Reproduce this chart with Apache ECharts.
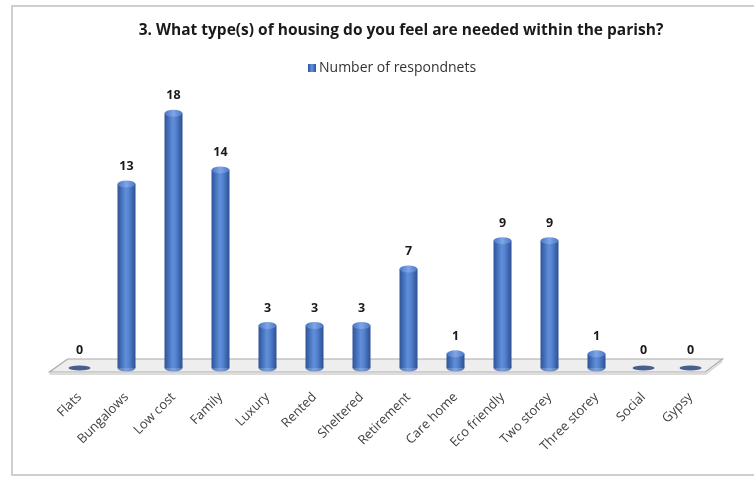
<!DOCTYPE html>
<html>
<head>
<meta charset="utf-8">
<script src="https://cdn.jsdelivr.net/npm/echarts@6/dist/echarts.min.js"></script>
<style>
  html, body { margin: 0; padding: 0; background: #ffffff; }
  #chart { width: 754px; height: 478px; }
</style>
</head>
<body>
<div id="chart"></div>
<script>
// Survey answers: housing types wanted in the parish
const categories = ['Flats', 'Bungalows', 'Low cost', 'Family', 'Luxury', 'Rented', 'Sheltered',
  'Retirement', 'Care home', 'Eco friendly', 'Two storey', 'Three storey', 'Social', 'Gypsy'];
const respondents = [0, 13, 18, 14, 3, 3, 3, 7, 1, 9, 9, 1, 0, 0];
const seriesName = 'Number of respondnets';
const chartTitle = '3. What type(s) of housing do you feel are needed within the parish?';

const FONT = '"Open Sans", Lato, sans-serif';

// cylinder body shading: darker rims, lighter middle
const bodyColor = new echarts.graphic.LinearGradient(0, 0, 1, 0, [
  { offset: 0, color: '#2d539a' },
  { offset: 0.45, color: '#5f8ed9' },
  { offset: 0.6, color: '#5886d3' },
  { offset: 1, color: '#2c5094' }
]);
const capColor = new echarts.graphic.LinearGradient(0, 0, 1, 0, [
  { offset: 0, color: '#4a77c4' },
  { offset: 0.5, color: '#7ea5e6' },
  { offset: 1, color: '#4a77c4' }
]);

const chart = echarts.init(document.getElementById('chart'));

chart.setOption({
  backgroundColor: '#ffffff',
  animation: false,
  title: {
    text: chartTitle,
    left: 396,
    textAlign: 'center',
    top: 18,
    textStyle: { fontFamily: FONT, fontSize: 15.5, fontWeight: 'bold', color: '#1a1a1a' }
  },
  legend: {
    data: [{ name: seriesName, icon: 'rect' }],
    left: 303,
    top: 56,
    itemWidth: 8,
    itemHeight: 8,
    itemGap: 4,
    textStyle: { fontFamily: FONT, fontSize: 14, color: '#333333', padding: [0, 0, 0, -2] }
  },
  grid: { left: 56, right: 40, top: 85, bottom: 110, containLabel: false },
  xAxis: {
    type: 'category',
    data: categories,
    axisLine: { show: false },
    axisTick: { show: false },
    axisLabel: {
      interval: 0,
      rotate: 45,
      margin: 27,
      fontFamily: FONT,
      fontSize: 13,
      color: '#404040'
    }
  },
  yAxis: {
    type: 'value',
    min: 0,
    max: 20,
    show: false,
    splitLine: { show: false }
  },
  series: [
    {
      // ellipse at the foot of every cylinder (flat disc where the count is zero)
      type: 'scatter',
      name: 'base',
      z: 3,
      silent: true,
      symbol: 'circle',
      data: respondents.map(function (v, i) {
        return {
          value: [i, 0],
          symbolSize: v === 0 ? [22, 5] : [18, 7],
          itemStyle: { color: v === 0 ? '#1f3a78' : bodyColor }
        };
      })
    },
    {
      type: 'bar',
      name: seriesName,
      z: 4,
      barWidth: 18,
      data: respondents,
      itemStyle: { color: bodyColor },
      label: {
        show: true,
        position: 'top',
        distance: 11,
        fontFamily: FONT,
        fontSize: 12.5,
        fontWeight: 'bold',
        color: '#1a1a1a'
      }
    },
    {
      // rounded top of each cylinder
      type: 'pictorialBar',
      name: 'cap',
      z: 5,
      silent: true,
      symbol: 'circle',
      symbolSize: [18, 7],
      symbolPosition: 'end',
      symbolOffset: [0, '-50%'],
      data: respondents.map(function (v) {
        return v === 0 ? { value: v, symbolSize: [0, 0] } : v;
      }),
      itemStyle: { color: capColor }
    }
  ]
});

// Frame and floor slab under the cylinders, placed from the axis positions
function drawFloor() {
  const first = chart.convertToPixel({ xAxisIndex: 0, yAxisIndex: 0 }, [0, 0]);
  const last = chart.convertToPixel({ xAxisIndex: 0, yAxisIndex: 0 }, [categories.length - 1, 0]);
  const y = first[1];
  chart.setOption({
    graphic: [
      {
        type: 'rect',
        z: -10,
        silent: true,
        shape: { x: 12, y: 6, width: 800, height: 469 },
        style: { fill: 'none', stroke: '#cfcfcf', lineWidth: 2 }
      },
      {
        type: 'polygon',
        z: 0,
        silent: true,
        shape: {
          points: [
            [first[0] - 12, y - 9],
            [last[0] + 32, y - 9],
            [last[0] + 15, y + 4],
            [first[0] - 30, y + 4]
          ]
        },
        style: { fill: '#eeeeee', stroke: '#a9a9a9', lineWidth: 1.2 }
      },
      {
        type: 'polyline',
        z: 0,
        silent: true,
        shape: {
          points: [
            [first[0] - 30, y + 6],
            [last[0] + 15, y + 6],
            [last[0] + 32, y - 7]
          ]
        },
        style: { fill: 'none', stroke: '#dcdcdc', lineWidth: 2 }
      }
    ]
  });
}
drawFloor();
</script>
</body>
</html>
